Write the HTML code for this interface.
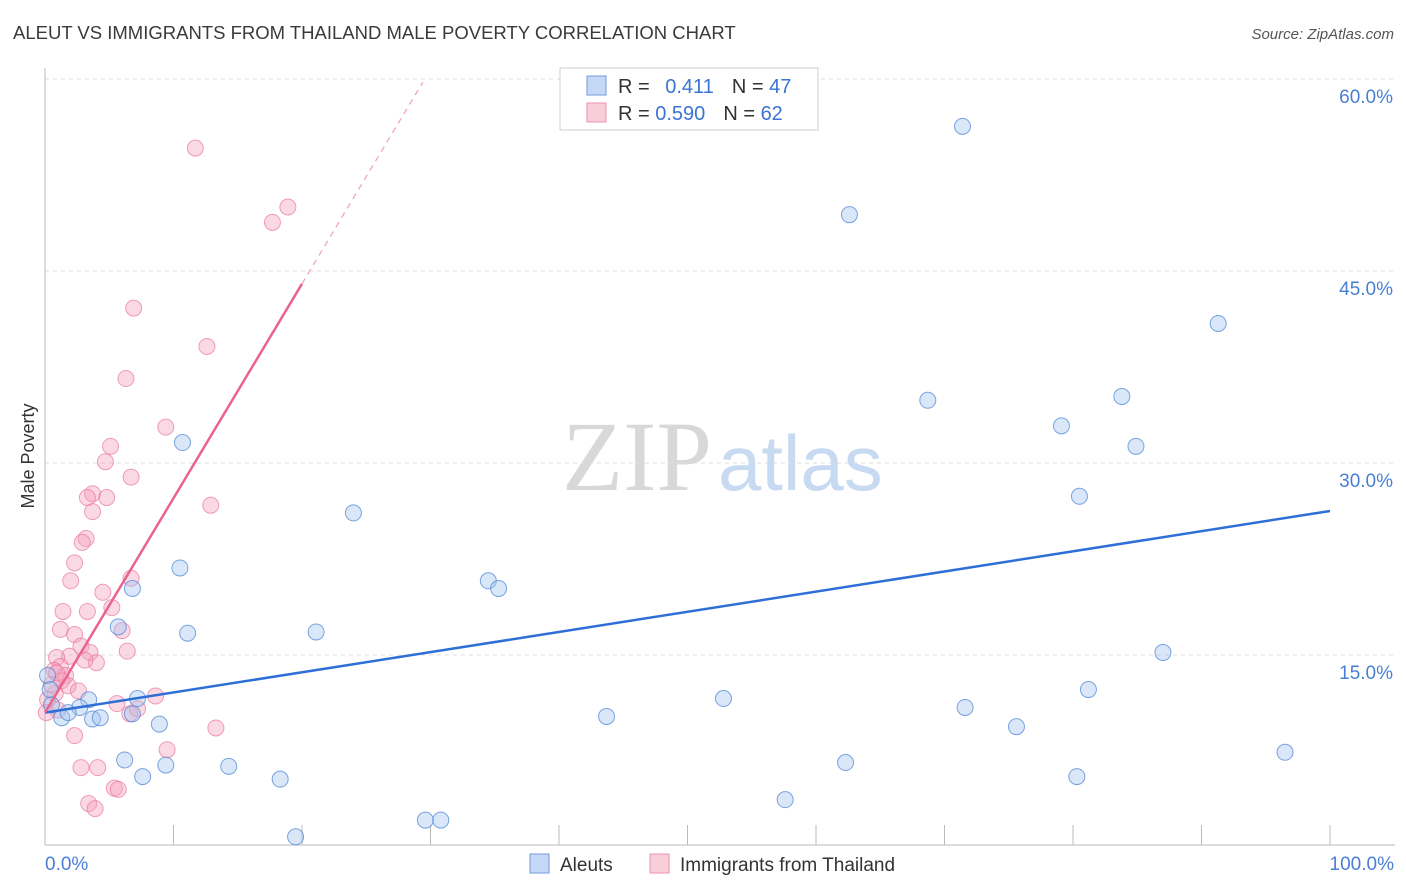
<!DOCTYPE html>
<html><head><meta charset="utf-8"><style>
body{margin:0;background:#fff;font-family:"Liberation Sans",sans-serif}
svg{display:block}
</style></head><body>
<svg id="c" width="1406" height="892" xmlns="http://www.w3.org/2000/svg">
<text x="13" y="39" font-size="18.5" fill="#3a3a3a">ALEUT VS IMMIGRANTS FROM THAILAND MALE POVERTY CORRELATION CHART</text>
<text x="1394" y="39" font-size="15" fill="#555" font-style="italic" text-anchor="end">Source: ZipAtlas.com</text>
<text x="712" y="490" font-size="100" fill="#d8d8d8" text-anchor="end" font-family="Liberation Serif">ZIP</text>
<text x="718" y="490" font-size="78" fill="#c8daf2">atlas</text>
<text transform="translate(34,456) rotate(-90)" font-size="18" fill="#333" text-anchor="middle">Male Poverty</text>
<g id="grid"></g><g id="pts"></g><g id="lines"></g>
<g>
<rect x="560" y="68" width="258" height="62" fill="#fff" stroke="#ccc"/>
<rect x="587" y="76" width="19" height="19" fill="#c5d8f5" stroke="#6f9be0"/>
<rect x="587" y="103" width="19" height="19" fill="#f9cedb" stroke="#ec93ae"/>
<text x="618" y="93" font-size="20" fill="#333">R = <tspan fill="#3a74d4" dx="10">0.411</tspan><tspan dx="18">N = </tspan><tspan fill="#3a74d4">47</tspan></text>
<text x="618" y="120" font-size="20" fill="#333">R = <tspan fill="#3a74d4">0.590</tspan><tspan dx="18">N = </tspan><tspan fill="#3a74d4">62</tspan></text>
</g>
<g>
<rect x="530" y="854" width="19" height="19" fill="#c5d8f5" stroke="#6f9be0"/>
<text x="560" y="871" font-size="19" fill="#333">Aleuts</text>
<rect x="650" y="854" width="19" height="19" fill="#f9cedb" stroke="#ec93ae"/>
<text x="680" y="871" font-size="19" fill="#333">Immigrants from Thailand</text>
</g>
</svg>
<script>
const yTicks=[15,30,45,60];
const yTickLabels=["15.0%","30.0%","45.0%","60.0%"];
const xTickLabels=["0.0%","100.0%"];
const aleutX=[71.4,62.6,91.3,68.7,83.8,79.1,84.9,10.7,80.5,24.0,10.5,34.5,35.3,6.8,11.1,21.1,5.7,87.0,81.2,52.8,7.2,3.4,2.7,71.6,43.7,6.8,3.7,1.3,8.9,75.6,6.2,9.4,14.3,62.3,7.6,18.3,80.3,96.5,57.6,29.6,30.8,19.5,0.2,0.4,4.3,0.5,1.8];
const aleutY=[56.3,49.4,40.9,34.9,35.2,32.9,31.3,31.6,27.4,26.1,21.8,20.8,20.2,20.2,16.7,16.8,17.2,15.2,12.3,11.6,11.6,11.5,10.9,10.9,10.2,10.4,10.0,10.1,9.6,9.4,6.8,6.4,6.3,6.6,5.5,5.3,5.5,7.4,3.7,2.1,2.1,0.8,13.4,12.3,10.1,11.1,10.5];
const thaiX=[11.7,18.9,17.7,6.9,12.6,6.3,9.4,5.1,4.7,6.7,3.7,3.3,4.8,12.9,3.7,3.2,2.9,2.3,2.0,6.7,4.5,1.4,3.3,5.2,6.0,1.2,2.3,2.8,6.4,3.5,1.9,0.9,4.0,3.1,1.2,0.7,1.6,1.3,1.8,2.6,0.8,0.2,1.0,0.1,8.6,5.6,6.6,7.2,2.3,13.3,9.5,2.8,4.1,5.4,5.7,3.4,3.9,0.5,0.9];
const thaiY=[54.6,50.0,48.8,42.1,39.1,36.6,32.8,31.3,30.1,28.9,27.6,27.3,27.3,26.7,26.2,24.1,23.8,22.2,20.8,21.0,19.9,18.4,18.4,18.7,16.9,17.0,16.6,15.7,15.3,15.2,14.9,14.8,14.4,14.6,14.1,13.8,13.4,13.0,12.6,12.2,12.0,11.5,10.7,10.5,11.8,11.2,10.4,10.8,8.7,9.3,7.6,6.2,6.2,4.6,4.5,3.4,3.0,12.7,13.6];
const aleutLine=[10.5,26.25];
const thaiLine=[10.5,44.0,20.0,29.4];
const NS="http://www.w3.org/2000/svg";
const X=v=>45+v*12.85, Y=v=>847-v*12.8;
function mk(tag,at,parent){const e=document.createElementNS(NS,tag);for(const k in at)e.setAttribute(k,at[k]);parent.appendChild(e);return e;}
const g=document.getElementById('grid');
yTicks.forEach((t,i)=>{
 const l=mk('line',{x1:45,x2:1395,y1:Y(t),y2:Y(t),stroke:'#ddd','stroke-dasharray':'4,4'},g);
 
 
 const tx=mk('text',{x:1393,y:Y(t)+24,'font-size':19,fill:'#4a7fd4','text-anchor':'end'},g);
 tx.textContent=yTickLabels[i];
 
 
});
const ax=mk('line',{x1:45,x2:45,y1:68,y2:845,stroke:'#bbb'},g);


const bx=mk('line',{x1:45,x2:1395,y1:845,y2:845,stroke:'#bbb'},g);


for(let i=1;i<=10;i++){const t=mk('line',{x1:X(i*10),x2:X(i*10),y1:825,y2:845,stroke:'#bbb'},g);
 
 }
[[0,'start',45],[1,'end',1394]].forEach(([i,a,x])=>{const t=mk('text',{x:x,y:870,'font-size':19,fill:'#4a7fd4','text-anchor':a},g);t.textContent=xTickLabels[i];
 
 });
const p=document.getElementById('pts');
thaiX.forEach((v,i)=>{const c=mk('circle',{cx:X(v),cy:Y(thaiY[i]),r:8,fill:'rgba(244,160,188,0.4)',stroke:'rgba(232,120,158,0.7)','stroke-width':1},p);
 
 });
aleutX.forEach((v,i)=>{const c=mk('circle',{cx:X(v),cy:Y(aleutY[i]),r:8,fill:'rgba(160,194,240,0.4)',stroke:'rgba(80,135,215,0.75)','stroke-width':1},p);
 
 });
const L=document.getElementById('lines');
const bl=mk('line',{x1:X(0),y1:Y(aleutLine[0]),x2:X(100),y2:Y(aleutLine[1]),stroke:'#2d6fd6','stroke-width':2.5},L);


const pl=mk('line',{x1:X(0),y1:Y(thaiLine[0]),x2:X(thaiLine[2]),y2:Y(thaiLine[1]),stroke:'#e8648f','stroke-width':2.5},L);


const slope=(thaiLine[1]-thaiLine[0])/thaiLine[2];
const pd=mk('line',{x1:X(thaiLine[2]),y1:Y(thaiLine[1]),x2:X(thaiLine[3]),y2:Y(thaiLine[0]+slope*thaiLine[3]),stroke:'#eea0b8','stroke-width':1.2,'stroke-dasharray':'6,5'},L);


</script>
</body></html>
